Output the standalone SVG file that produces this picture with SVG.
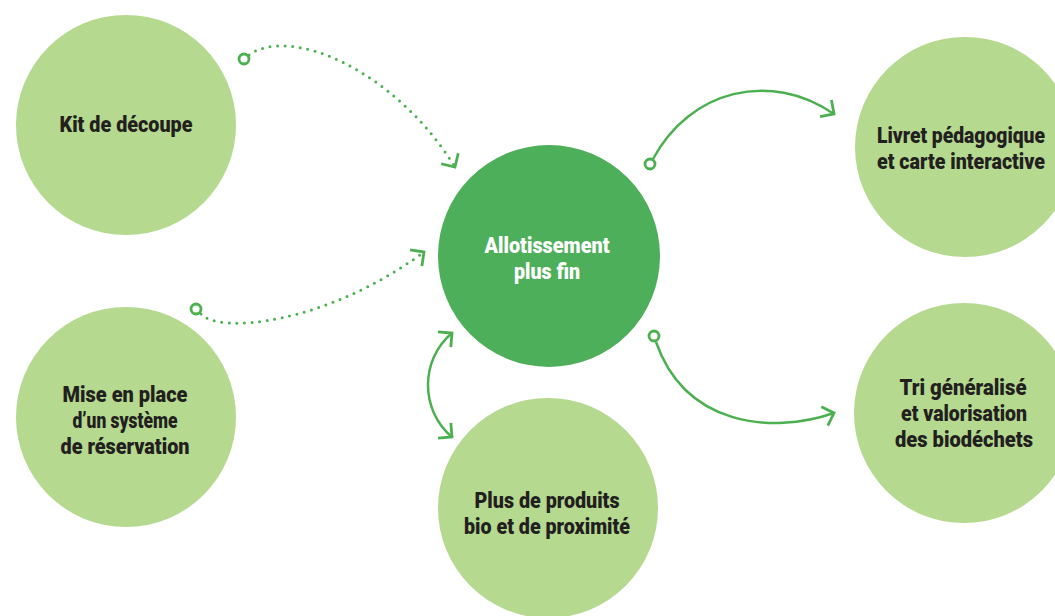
<svg xmlns="http://www.w3.org/2000/svg" width="1055" height="616" viewBox="0 0 1055 616">
<style>
.light{fill:#b5d98f}
.dark{fill:#4daf5a}
.t{font-family:Roboto,"Liberation Sans",sans-serif;font-weight:900;font-size:22.5px;fill:#231f20;text-anchor:middle}
.tw{fill:#ffffff}
.con{fill:none;stroke:#4cb050;stroke-width:2.5}
.dot{stroke-dasharray:0 7.6;stroke-linecap:round;stroke-width:3}
.start{fill:#ffffff;stroke:#4cb050;stroke-width:2.8}
</style>
<defs>
<marker id="chev" markerUnits="userSpaceOnUse" viewBox="-14 -12 18 24" refX="0" refY="0" markerWidth="18" markerHeight="24" orient="auto-start-reverse">
<path d="M-10,-10 L0,0 L-10,10" fill="none" stroke="#4cb050" stroke-width="2.8"/>
</marker>
</defs>
<rect width="1055" height="616" fill="#ffffff"/>
<g id="node-kit">
<circle class="light" cx="126" cy="125" r="110"/>
<text class="t" x="126" y="132" textLength="133" lengthAdjust="spacingAndGlyphs">Kit de découpe</text>
</g>
<g id="node-reservation">
<circle class="light" cx="126" cy="417" r="110"/>
<text class="t" x="125" y="402" textLength="125" lengthAdjust="spacingAndGlyphs">Mise en place</text>
<text class="t" x="125" y="428" textLength="105" lengthAdjust="spacingAndGlyphs">d’un système</text>
<text class="t" x="125" y="454" textLength="129" lengthAdjust="spacingAndGlyphs">de réservation</text>
</g>
<g id="node-allotissement">
<circle class="dark" cx="549" cy="256" r="111"/>
<text class="t tw" x="547" y="253" textLength="125" lengthAdjust="spacingAndGlyphs">Allotissement</text>
<text class="t tw" x="547" y="279" textLength="66" lengthAdjust="spacingAndGlyphs">plus fin</text>
</g>
<g id="node-produits">
<circle class="light" cx="548" cy="508" r="110"/>
<text class="t" x="547" y="508" textLength="145" lengthAdjust="spacingAndGlyphs">Plus de produits</text>
<text class="t" x="547" y="534" textLength="166" lengthAdjust="spacingAndGlyphs">bio et de proximité</text>
</g>
<g id="node-livret">
<circle class="light" cx="965" cy="147" r="110"/>
<text class="t" transform="translate(961,143) scale(0.84,1)" x="0" y="0" textLength="200" lengthAdjust="spacingAndGlyphs">Livret pédagogique</text>
<text class="t" transform="translate(961,169) scale(0.84,1)" x="0" y="0" textLength="200" lengthAdjust="spacingAndGlyphs">et carte interactive</text>
</g>
<g id="node-tri">
<circle class="light" cx="964" cy="413" r="110"/>
<text class="t" x="963" y="395" textLength="127" lengthAdjust="spacingAndGlyphs">Tri généralisé</text>
<text class="t" x="964" y="421" textLength="126" lengthAdjust="spacingAndGlyphs">et valorisation</text>
<text class="t" x="964" y="447" textLength="138" lengthAdjust="spacingAndGlyphs">des biodéchets</text>
</g>
<g id="connectors">
<path class="con dot" d="M249,55 C290,25 395,70 455,167" marker-end="url(#chev)"/>
<circle class="start" cx="244" cy="59" r="5"/>
<path class="con dot" d="M201,314 C218,334 325,325 424,252" marker-end="url(#chev)"/>
<circle class="start" cx="196" cy="309" r="5"/>
<path class="con" d="M452,333 C420,360 420,410 452,437" marker-start="url(#chev)" marker-end="url(#chev)"/>
<path class="con" d="M653,159 C690,90 770,70 834,114" marker-end="url(#chev)"/>
<circle class="start" cx="650" cy="164" r="5"/>
<path class="con" d="M656,342 C685,425 770,435 834,413" marker-end="url(#chev)"/>
<circle class="start" cx="654" cy="336" r="5"/>
</g>
</svg>
